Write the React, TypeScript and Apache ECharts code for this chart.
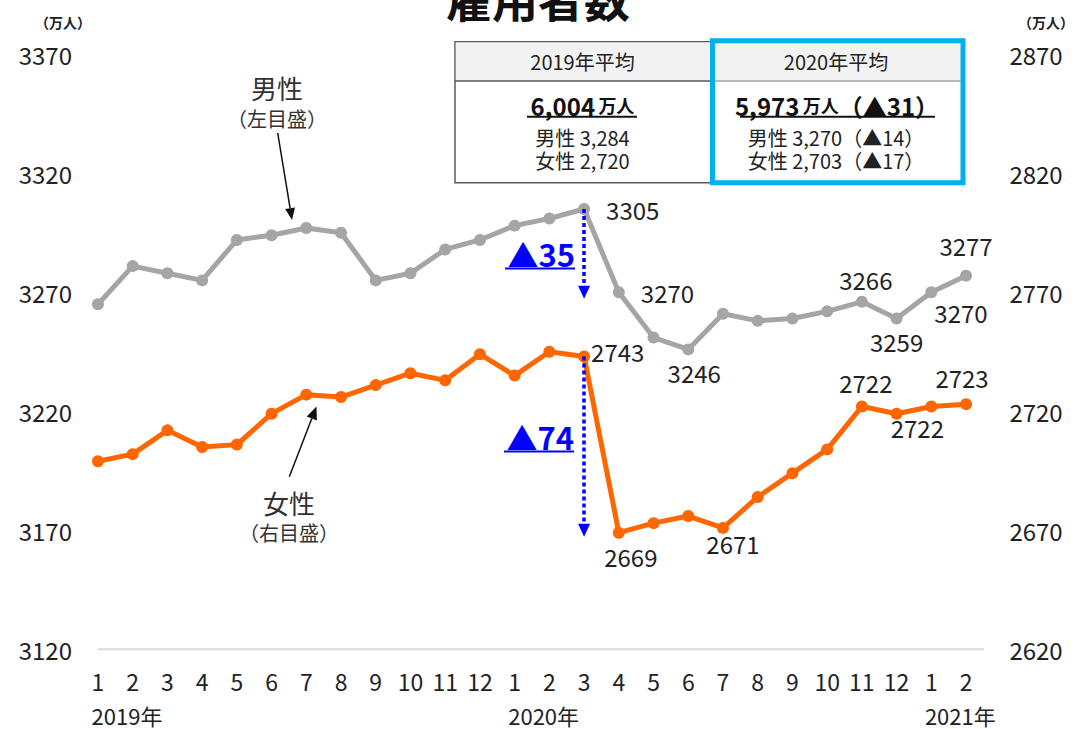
import React, { useEffect, useRef } from 'react';
import * as echarts from 'echarts';

const FONT = '"Noto Sans CJK JP", "Noto Sans", sans-serif';

// ---- data ----
const months = ['1', '2', '3', '4', '5', '6', '7', '8', '9', '10', '11', '12',
  '1', '2', '3', '4', '5', '6', '7', '8', '9', '10', '11', '12', '1', '2'];
const maleValues = [3265, 3281, 3278, 3275, 3292, 3294, 3297, 3295, 3275, 3278, 3288, 3292,
  3298, 3301, 3305, 3270, 3251, 3246, 3261, 3258, 3259, 3262, 3266, 3259, 3270, 3277];
const femaleValues = [2699, 2702, 2712, 2705, 2706, 2719, 2727, 2726, 2731, 2736, 2733, 2744,
  2735, 2745, 2743, 2669, 2673, 2676, 2671, 2684, 2694, 2704, 2722, 2719, 2722, 2723];
const leftTicks = [3120, 3170, 3220, 3270, 3320, 3370];
const rightTicks = [2620, 2670, 2720, 2770, 2820, 2870];
const yearLabels = ['2019年', '2020年', '2021年'];
const yearStartIndex = [0, 12, 24];
const titleText = '雇用者数';
const unitText = '（万人）';
const dropIndex = 14;
const maleDrop = [3305, 3270];
const femaleDrop = [2743, 2670];
const maleDropText = '▲35';
const femaleDropText = '▲74';
const avg2019Header = '2019年平均';
const avg2020Header = '2020年平均';
const avg2019Total = '6,004';
const avg2020Total = '5,973';
const avg2020Change = '（▲31）';
const avg2019Male = '男性 3,284';
const avg2019Female = '女性 2,720';
const avg2020Male = '男性 3,270（▲14）';
const avg2020Female = '女性 2,703（▲17）';

// ---- label placements (style only) ----
const maleLabelPlacement: Record<number, any> = {
  14: { position: 'right', distance: 16 },
  15: { position: 'right', distance: 16 },
  17: { position: 'bottom', distance: 5, offset: [6, 0] },
  22: { position: 'top', distance: 4, offset: [4, 0] },
  23: { position: 'bottom', distance: 5 },
  24: { position: 'right', distance: 0, offset: [-3, 20] },
  25: { position: 'top', distance: 12 },
};
const femaleLabelPlacement: Record<number, any> = {
  14: { position: 'right', distance: 1, offset: [0, -5] },
  15: { position: 'bottom', distance: 6, offset: [12, 0] },
  18: { position: 'bottom', distance: 0, offset: [10, -2] },
  22: { position: 'top', distance: 6, offset: [4, 0] },
  24: { position: 'bottom', distance: 3, offset: [-14, 0] },
  25: { position: 'top', distance: 9, offset: [-4, 0] },
};

const GRAY = '#a5a5a5';
const ORANGE = '#ff6600';
const BLUE = '#0000ff';
const TEXT = '#222222';

function withLabels(values: number[], placement: Record<number, any>) {
  return values.map((v, i) => {
    const p = placement[i];
    if (!p) return { value: v };
    return {
      value: v,
      label: { show: true, fontSize: 24, color: TEXT, fontFamily: FONT, ...p },
    };
  });
}

function text(x: number, y: number, t: string, size: number, opts: any = {}) {
  return {
    type: 'text',
    x,
    y,
    silent: true,
    style: {
      text: t,
      fontSize: size,
      fontFamily: FONT,
      fill: TEXT,
      align: 'center',
      verticalAlign: 'middle',
      lineHeight: size,
      ...opts,
    },
  };
}

function line(x1: number, y1: number, x2: number, y2: number, stroke: string, lineWidth: number) {
  return { type: 'line', silent: true, shape: { x1, y1, x2, y2 }, style: { stroke, lineWidth } };
}

export default function App() {
  const ref = useRef<HTMLDivElement>(null);
  useEffect(() => {
    if (!ref.current) return;
    const chart = echarts.init(ref.current, null, { renderer: 'svg' });
    const yearPad = 58;
    const plain = (v: number) => String(v);
    const option: any = {
      animation: false,
      textStyle: { fontFamily: FONT },
      grid: { left: 80.6, right: 92.6, top: 54.3, bottom: 79.7 },
      xAxis: [
        {
          type: 'category',
          data: months,
          boundaryGap: true,
          axisLine: { show: false },
          axisTick: { show: false },
          splitLine: { show: false },
          axisLabel: { interval: 0, color: TEXT, fontSize: 23, margin: 20, fontFamily: FONT },
        },
        {
          type: 'category',
          data: months,
          position: 'bottom',
          boundaryGap: true,
          axisLine: { show: false },
          axisTick: { show: false },
          splitLine: { show: false },
          axisLabel: {
            interval: 0,
            color: TEXT,
            fontSize: 22,
            lineHeight: 22,
            margin: 55,
            fontFamily: FONT,
            align: 'center',
            padding: [0, 0, 0, yearPad],
            formatter: (_v: string, i: number) => {
              const k = yearStartIndex.indexOf(i);
              return k >= 0 ? yearLabels[k] : '';
            },
          },
        },
      ],
      yAxis: [
        {
          type: 'value',
          position: 'left',
          min: leftTicks[0],
          max: leftTicks[leftTicks.length - 1],
          splitLine: { show: false },
          axisLine: { show: false },
          axisTick: { show: false },
          axisLabel: { customValues: leftTicks, formatter: plain, margin: 8.6, fontSize: 24, color: TEXT, fontFamily: FONT },
        },
        {
          type: 'value',
          position: 'right',
          min: rightTicks[0],
          max: rightTicks[rightTicks.length - 1],
          splitLine: { show: false },
          axisLine: { show: false },
          axisTick: { show: false },
          axisLabel: { customValues: rightTicks, formatter: plain, margin: 26, fontSize: 24, color: TEXT, fontFamily: FONT },
        },
      ],
      series: [
        {
          name: '男性',
          type: 'line',
          yAxisIndex: 0,
          data: withLabels(maleValues, maleLabelPlacement),
          symbol: 'circle',
          symbolSize: 12,
          lineStyle: { width: 5, color: GRAY },
          itemStyle: { color: GRAY },
          z: 3,
          markLine: {
            silent: true,
            symbol: ['none', 'triangle'],
            symbolSize: [12, 13],
            label: { show: false },
            lineStyle: { color: BLUE, width: 3.5, type: [4, 3] },
            data: [[{ coord: [dropIndex, maleDrop[0]] }, { coord: [dropIndex, maleDrop[1]] }]],
          },
        },
        {
          name: '女性',
          type: 'line',
          yAxisIndex: 1,
          data: withLabels(femaleValues, femaleLabelPlacement),
          symbol: 'circle',
          symbolSize: 12,
          lineStyle: { width: 5, color: ORANGE },
          itemStyle: { color: ORANGE },
          z: 3,
          markLine: {
            silent: true,
            symbol: ['none', 'triangle'],
            symbolSize: [12, 13],
            label: { show: false },
            lineStyle: { color: BLUE, width: 3.5, type: [4, 3] },
            data: [[{ coord: [dropIndex, femaleDrop[0]] }, { coord: [dropIndex, femaleDrop[1]] }]],
          },
        },
      ],
      graphic: [
        // bottom axis line
        line(98, 649.3, 984, 649.3, '#d9d9d9', 2),
        // title
        text(538, -3, titleText, 46, { fontWeight: 'bold', fill: '#111' }),
        // units
        text(63, 22, unitText, 14, { fontWeight: 'bold' }),
        text(1046, 22, unitText, 14, { fontWeight: 'bold' }),
        // male annotation
        text(277, 87, '男性', 26, { fill: '#333' }),
        text(277, 118, '（左目盛）', 20, { fill: '#333' }),
        line(277.7, 133, 290.1, 208.2, '#111', 1.5),
        { type: 'polygon', silent: true, shape: { points: [[292, 220], [295, 207.4], [285.2, 209]] }, style: { fill: '#111' } },
        // female annotation
        text(289, 502, '女性', 26, { fill: '#333' }),
        text(289, 532, '（右目盛）', 20, { fill: '#333' }),
        line(289.3, 476.7, 311.8, 418.6, '#111', 1.5),
        { type: 'polygon', silent: true, shape: { points: [[316.5, 406.5], [316.9, 420.6], [306.7, 416.6]] }, style: { fill: '#111' } },
        // drop annotations
        text(575, 253, maleDropText, 31, { fill: BLUE, fontWeight: 'bold', align: 'right' }),
        line(505, 268.5, 575, 268.5, BLUE, 2),
        text(574, 436, femaleDropText, 31, { fill: BLUE, fontWeight: 'bold', align: 'right' }),
        line(504, 451.5, 574, 451.5, BLUE, 2),
        // table left cell
        { type: 'rect', silent: true, shape: { x: 455, y: 41.7, width: 257, height: 141 }, style: { fill: '#ffffff', stroke: '#595959', lineWidth: 1.5 } },
        { type: 'rect', silent: true, shape: { x: 455.8, y: 42.5, width: 255, height: 38.5 }, style: { fill: '#f2f2f2' } },
        line(455, 81, 712, 81, '#595959', 1.5),
        // table right cell
        { type: 'rect', silent: true, shape: { x: 712.5, y: 40.7, width: 250.5, height: 142 }, style: { fill: '#ffffff' } },
        { type: 'rect', silent: true, shape: { x: 715, y: 43, width: 245.5, height: 38 }, style: { fill: '#f2f2f2' } },
        line(715, 81, 960.5, 81, '#7f7f7f', 1.2),
        { type: 'rect', silent: true, shape: { x: 712.5, y: 40.7, width: 250.5, height: 142 }, style: { fill: 'none', stroke: '#00b0f0', lineWidth: 5 } },
        // table texts
        text(582.5, 61.5, avg2019Header, 20),
        text(836, 61.5, avg2020Header, 20),
        {
          type: 'text', x: 582.5, y: 105, silent: true,
          style: {
            text: '{a|' + avg2019Total + '} {b|万人}',
            align: 'center', verticalAlign: 'middle', fill: '#111',
            rich: {
              a: { fontSize: 24, fontWeight: 'bold', fontFamily: FONT, fill: '#111' },
              b: { fontSize: 18, fontWeight: 'bold', fontFamily: FONT, fill: '#111' },
            },
          },
        },
        line(527, 116.7, 637, 116.7, '#111', 2),
        {
          type: 'text', x: 837, y: 105, silent: true,
          style: {
            text: '{a|' + avg2020Total + '} {b|万人}{a|' + avg2020Change + '}',
            align: 'center', verticalAlign: 'middle', fill: '#111',
            rich: {
              a: { fontSize: 24, fontWeight: 'bold', fontFamily: FONT, fill: '#111' },
              b: { fontSize: 18, fontWeight: 'bold', fontFamily: FONT, fill: '#111' },
            },
          },
        },
        line(740, 116.7, 935, 116.7, '#111', 2),
        text(582.5, 137, avg2019Male, 20),
        text(582.5, 160, avg2019Female, 20),
        text(836, 137, avg2020Male, 20),
        text(836, 160, avg2020Female, 20),
      ],
    };
    chart.setOption(option);
    return () => chart.dispose();
  }, []);
  return (
    <div
      ref={ref}
      style={{ position: 'absolute', left: 0, top: 0, width: 1076, height: 729, background: '#ffffff' }}
    />
  );
}
